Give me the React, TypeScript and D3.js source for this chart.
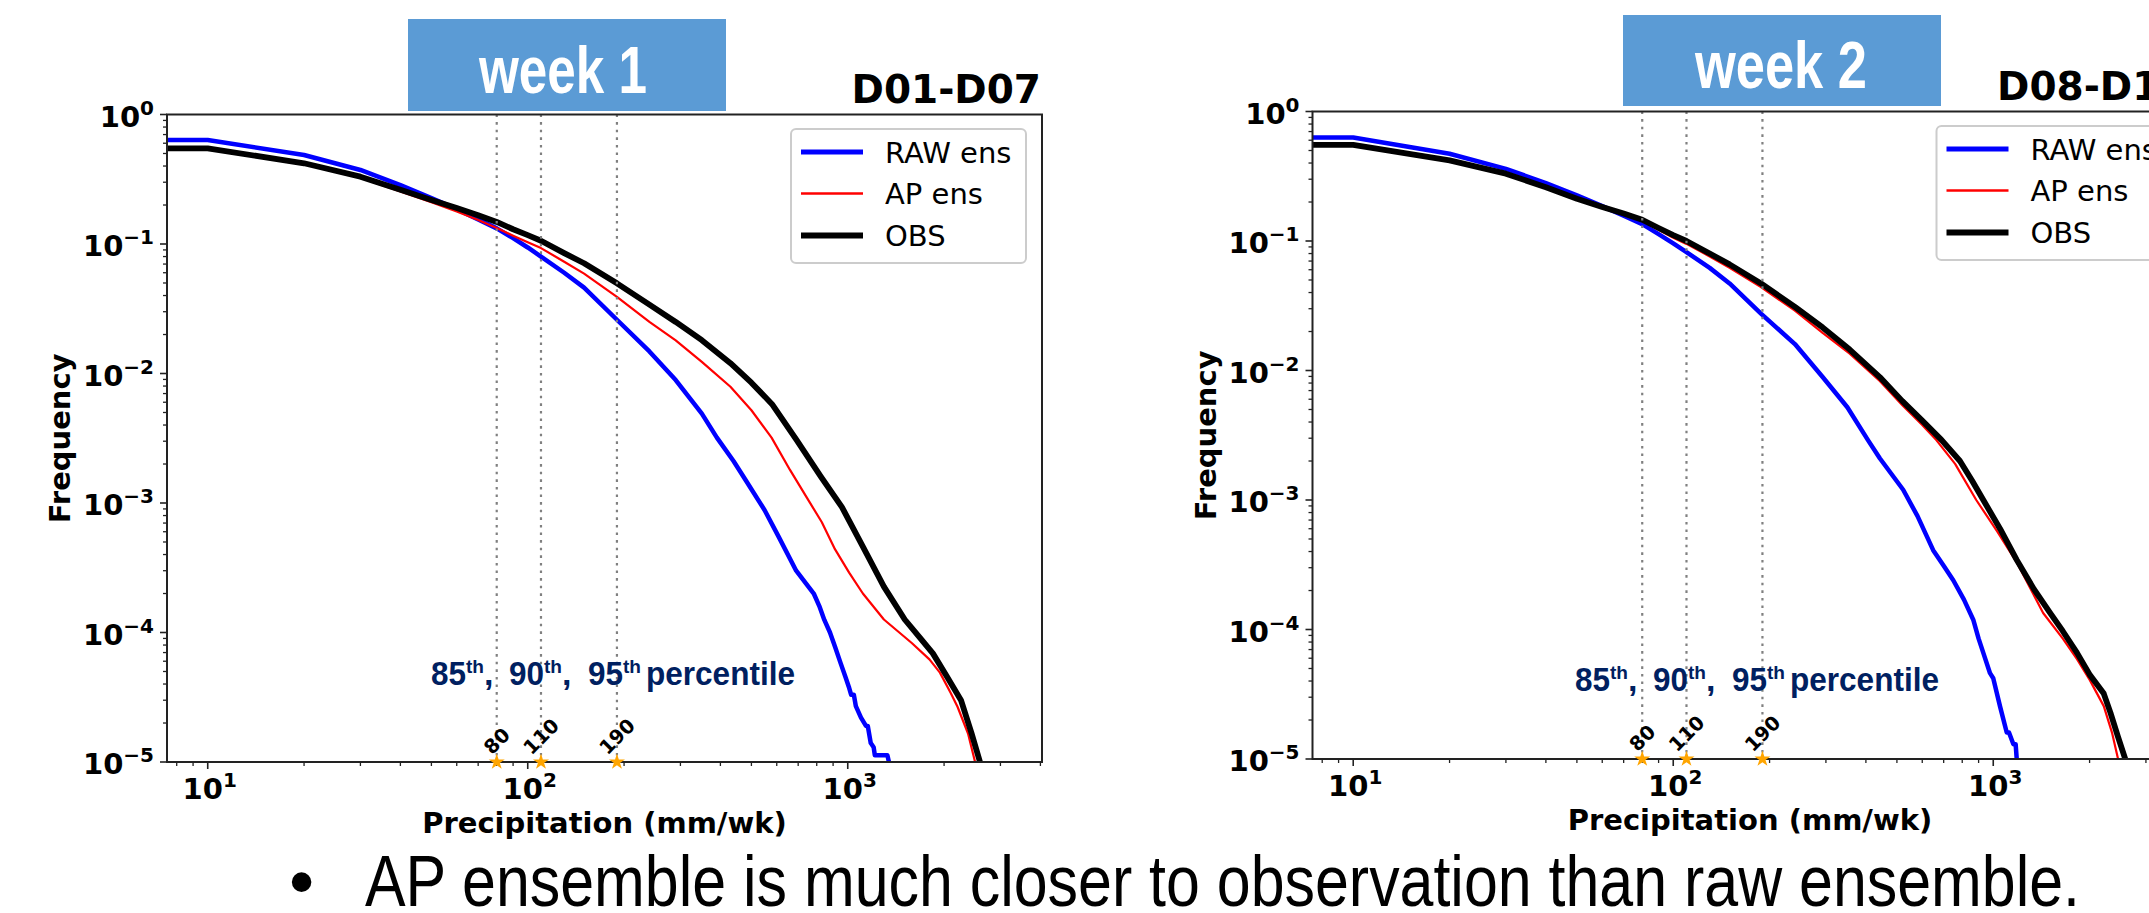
import React from 'react';
import * as d3 from 'd3';

type Pt = [number, number];

// ---------- data ----------
const xTicks = [10, 100, 1000];
const xTickExp = ['1', '2', '3'];
const yTicks = [1, 1e-1, 1e-2, 1e-3, 1e-4, 1e-5];
const yTickExp = ['0', '\u22121', '\u22122', '\u22123', '\u22124', '\u22125'];
const xDomain = [7.46, 4046];
const yDomain = [1e-5, 1];
const percentiles = [80, 110, 190];
const percentileLabels = ['80', '110', '190'];
const percentileNames = ['85', '90', '95'];
const seriesNames = ['RAW ens', 'AP ens', 'OBS'];
const seriesColors = ['#0000ff', '#ff0000', '#000000'];
const panelTitles = ['D01-D07', 'D08-D14'];
const weekLabels = ['week 1', 'week 2'];
const bottomNote = 'AP ensemble is much closer to observation than raw ensemble.';

const week1Raw: Pt[] = [
  [5, 0.635], [10, 0.635], [20, 0.487], [30, 0.373], [40, 0.285], [50, 0.226], [60, 0.186],
  [70, 0.155], [80, 0.132], [90, 0.111], [100, 0.094], [110, 0.08], [130, 0.06], [150, 0.046],
  [190, 0.026], [240, 0.0148], [290, 0.0089], [350, 0.0049], [390, 0.0032], [440, 0.0021],
  [480, 0.0015], [550, 0.00088], [608, 0.00055], [690, 0.0003], [740, 0.00024], [783, 0.0002],
  [815, 0.00016], [845, 0.000125], [880, 0.0001], [912, 0.000078], [950, 0.000058],
  [985, 0.000045], [1008, 0.000038], [1025, 0.000033], [1045, 0.000033], [1060, 0.000027],
  [1100, 0.000022], [1140, 0.000019], [1155, 0.000019], [1180, 0.000014], [1205, 0.000013],
  [1215, 0.0000113], [1330, 0.0000113], [1345, 0.00001],
];
const week1Ap: Pt[] = [
  [5, 0.548], [10, 0.548], [20, 0.417], [30, 0.325], [40, 0.255], [50, 0.21], [60, 0.178],
  [70, 0.153], [80, 0.133], [90, 0.116], [100, 0.103], [110, 0.093], [130, 0.073], [150, 0.059],
  [190, 0.039], [240, 0.025], [290, 0.018], [350, 0.0123], [430, 0.0079], [500, 0.0052],
  [578, 0.0032], [660, 0.0018], [745, 0.0011], [830, 0.00071], [912, 0.00044], [1010, 0.00029],
  [1115, 0.0002], [1297, 0.000126], [1585, 0.000083], [1800, 0.000062], [1941, 0.000049],
  [2100, 0.000034], [2203, 0.0000267], [2376, 0.0000166], [2500, 0.00001],
];
const week1Obs: Pt[] = [
  [5, 0.548], [10, 0.548], [20, 0.42], [30, 0.331], [40, 0.262], [50, 0.219], [60, 0.19],
  [70, 0.167], [80, 0.148], [90, 0.13], [100, 0.117], [110, 0.106], [130, 0.085], [150, 0.071],
  [190, 0.0497], [240, 0.034], [290, 0.025], [350, 0.0181], [430, 0.012], [500, 0.0085],
  [580, 0.0058], [690, 0.0031], [824, 0.0016], [959, 0.00093], [1115, 0.00046], [1297, 0.000226],
  [1507, 0.000126], [1700, 0.000088], [1845, 0.000069], [2050, 0.000045], [2259, 0.00003],
  [2438, 0.0000166], [2590, 0.00001],
];

const week2Raw: Pt[] = [
  [5, 0.63], [10, 0.63], [20, 0.472], [30, 0.361], [40, 0.28], [50, 0.225], [60, 0.186],
  [70, 0.157], [80, 0.135], [90, 0.113], [100, 0.096], [110, 0.082], [130, 0.062], [150, 0.047],
  [188, 0.0275], [240, 0.016], [293, 0.0089], [350, 0.0052], [406, 0.0029], [442, 0.0021],
  [523, 0.0012], [580, 0.00075], [649, 0.00041], [700, 0.00031], [750, 0.00024], [810, 0.00017],
  [866, 0.000119], [900, 0.000085], [931, 0.000066], [977, 0.000046], [1000, 0.000042],
  [1050, 0.0000255], [1102, 0.000016], [1120, 0.000016], [1156, 0.000013], [1175, 0.000013],
  [1184, 0.00001],
];
const week2Ap: Pt[] = [
  [5, 0.553], [10, 0.553], [20, 0.416], [30, 0.327], [40, 0.257], [50, 0.209], [60, 0.18],
  [70, 0.16], [80, 0.143], [90, 0.122], [100, 0.106], [110, 0.095], [130, 0.076], [150, 0.062],
  [188, 0.044], [240, 0.029], [293, 0.0195], [356, 0.0135], [442, 0.0083], [520, 0.0054],
  [600, 0.0038], [664, 0.0029], [760, 0.0019], [885, 0.001], [1030, 0.00057], [1184, 0.00033],
  [1432, 0.000134], [1650, 0.000085], [1827, 0.000059], [2000, 0.000041], [2215, 0.0000256],
  [2350, 0.000016], [2455, 0.00001],
];
const week2Obs: Pt[] = [
  [5, 0.553], [10, 0.553], [20, 0.419], [30, 0.331], [40, 0.26], [50, 0.212], [60, 0.183],
  [70, 0.163], [80, 0.146], [90, 0.126], [100, 0.111], [110, 0.1], [130, 0.08], [150, 0.066],
  [188, 0.047], [240, 0.031], [293, 0.0215], [356, 0.0145], [442, 0.0089], [520, 0.0058],
  [600, 0.0041], [690, 0.0029], [787, 0.002], [860, 0.0014], [931, 0.001], [1050, 0.0006],
  [1184, 0.000345], [1340, 0.000205], [1507, 0.000134], [1650, 0.000097], [1827, 0.000066],
  [2000, 0.000045], [2215, 0.000032], [2325, 0.0000227], [2450, 0.000015], [2585, 0.00001],
];

// ---------- layout ----------
const W = 2149;
const H = 913;
const PW = 875;
const PH = 647.5;
const MPL = 'DejaVu Sans';
const PPT = 'Liberation Sans';

function minorTicks(lo: number, hi: number, majors: number[]) {
  const out: number[] = [];
  for (let e = Math.floor(Math.log10(lo)); e <= Math.ceil(Math.log10(hi)); e++) {
    for (let m = 1; m <= 9; m++) {
      const v = m * Math.pow(10, e);
      if (v >= lo * 0.999 && v <= hi * 1.001 && !majors.some((t) => Math.abs(t - v) / v < 1e-6)) out.push(v);
    }
  }
  return out;
}

interface PanelProps {
  idx: number;
  left: number;
  top: number;
  raw: Pt[];
  ap: Pt[];
  obs: Pt[];
  pctX: number;
  pctY: number;
  boxX: number;
  boxY: number;
  boxH: number;
  weekX: number;
  weekY: number;
  weekLen: number;
  weekSize: number;
}

function PercentileNote({ x0, y0 }: { x0: number; y0: number }) {
  const numX = [0, 78, 157];
  const fill = '#002060';
  return (
    <g fontFamily={PPT} fontWeight="bold" fill={fill}>
      {percentileNames.map((n, i) => (
        <g key={i}>
          <text x={x0 + numX[i] - 1} y={y0} fontSize={34} textLength={35} lengthAdjust="spacingAndGlyphs">{n}</text>
          <text x={x0 + numX[i] + 34} y={y0 - 12} fontSize={18} textLength={18} lengthAdjust="spacingAndGlyphs">th</text>
          {i < 2 && <text x={x0 + numX[i] + 52} y={y0} fontSize={34}>,</text>}
        </g>
      ))}
      <text x={x0 + 214} y={y0} fontSize={34} textLength={149} lengthAdjust="spacingAndGlyphs">percentile</text>
    </g>
  );
}

function Panel(p: PanelProps) {
  const right = p.left + PW;
  const bottom = p.top + PH;
  const x = d3.scaleLog().domain(xDomain).range([p.left, right]);
  const y = d3.scaleLog().domain(yDomain).range([bottom, p.top]);
  const line = d3.line<Pt>().x((d) => x(d[0])).y((d) => y(d[1]));
  const clipId = `clip${p.idx}`;
  const series = [p.raw, p.ap, p.obs];
  const widths = [4.5, 2.2, 5.8];
  const xMinor = minorTicks(xDomain[0], xDomain[1], xTicks);
  const yMinor = minorTicks(yDomain[0], yDomain[1], yTicks);
  const star = d3.symbol(d3.symbolStar, 80)() as string;
  const legX = p.left + 624;
  const legY = p.top + 14.5;
  const rowOff = [23, 64.5, 106.5];
  const lblFs = 19.5;

  return (
    <g>
      <defs>
        <clipPath id={clipId}>
          <rect x={p.left} y={p.top} width={PW} height={PH} />
        </clipPath>
      </defs>
      <g clipPath={`url(#${clipId})`}>
        {series.map((s, i) => (
          <path key={i} d={line(s) as string} fill="none" stroke={seriesColors[i]}
            strokeWidth={widths[i]} strokeLinejoin="round" strokeLinecap="butt" />
        ))}
      </g>
      {percentiles.map((v, i) => (
        <line key={i} x1={x(v)} x2={x(v)} y1={p.top} y2={bottom} stroke="#808080"
          strokeWidth={2.2} strokeDasharray="2.6 5" />
      ))}
      <rect x={p.left} y={p.top} width={PW} height={PH} fill="none" stroke="#222" strokeWidth={2} />
      {yTicks.map((t, i) => (
        <g key={`yt${i}`}>
          <line x1={p.left - 7} x2={p.left} y1={y(t)} y2={y(t)} stroke="#222" strokeWidth={1.6} />
          <text x={p.left - 13} y={y(t) + 12} textAnchor="end" fontFamily={MPL} fontWeight="bold" fontSize={29} fill="#000">
            <tspan>10</tspan>
            <tspan dy={-12} fontSize={20}>{yTickExp[i]}</tspan>
          </text>
        </g>
      ))}
      {yMinor.map((t, i) => (
        <line key={`ym${i}`} x1={p.left - 4} x2={p.left} y1={y(t)} y2={y(t)} stroke="#222" strokeWidth={1.3} />
      ))}
      {xTicks.map((t, i) => (
        <g key={`xt${i}`}>
          <line x1={x(t)} x2={x(t)} y1={bottom} y2={bottom + 7} stroke="#222" strokeWidth={1.6} />
          <text x={x(t) + 2} y={bottom + 37} textAnchor="middle" fontFamily={MPL} fontWeight="bold" fontSize={29} fill="#000">
            <tspan>10</tspan>
            <tspan dy={-12} fontSize={20}>{xTickExp[i]}</tspan>
          </text>
        </g>
      ))}
      {xMinor.map((t, i) => (
        <line key={`xm${i}`} x1={x(t)} x2={x(t)} y1={bottom} y2={bottom + 4} stroke="#222" strokeWidth={1.3} />
      ))}
      <text x={(p.left + right) / 2} y={bottom + 71} textAnchor="middle" fontFamily={MPL} fontWeight="bold" fontSize={29}>
        Precipitation (mm/wk)
      </text>
      <text transform={`translate(${p.left - 97},${(p.top + bottom) / 2}) rotate(-90)`} textAnchor="middle"
        fontFamily={MPL} fontWeight="bold" fontSize={29}>
        Frequency
      </text>
      <text x={right - 1} y={p.top - 12} textAnchor="end" fontFamily={MPL} fontWeight="bold" fontSize={39}>
        {panelTitles[p.idx]}
      </text>
      <rect x={legX} y={legY} width={235} height={134} rx={5} fill="#fff" fillOpacity={0.85} stroke="#cccccc" strokeWidth={2} />
      {seriesNames.map((n, i) => (
        <g key={`lg${i}`}>
          <line x1={legX + 10} x2={legX + 72} y1={legY + rowOff[i]} y2={legY + rowOff[i]}
            stroke={seriesColors[i]} strokeWidth={widths[i] + 0.4} />
          <text x={legX + 94} y={legY + rowOff[i] + 10.5} fontFamily={MPL} fontSize={29} fill="#000">{n}</text>
        </g>
      ))}
      {percentiles.map((v, i) => {
        const L = percentileLabels[i].length * 0.66 * lblFs;
        const h = (L + 0.73 * lblFs) * 0.707;
        const cy = bottom - 7 - h / 2;
        return (
          <g key={`st${i}`}>
            <path d={star} transform={`translate(${x(v)},${bottom})`} fill="#FFA500" />
            <text transform={`translate(${x(v)},${cy}) rotate(-45)`} textAnchor="middle" dy="0.36em"
              fontFamily={MPL} fontWeight="bold" fontSize={lblFs} fill="#000">
              {percentileLabels[i]}
            </text>
          </g>
        );
      })}
      <PercentileNote x0={p.pctX} y0={p.pctY} />
      <rect x={p.boxX} y={p.boxY} width={318} height={p.boxH} fill="#5B9BD5" />
      <text x={p.weekX} y={p.weekY} fontFamily={PPT} fontWeight="bold" fontSize={p.weekSize} fill="#fff"
        textLength={p.weekLen} lengthAdjust="spacingAndGlyphs">
        {weekLabels[p.idx]}
      </text>
    </g>
  );
}

export default function App() {
  return (
    <svg width={W} height={H} viewBox={`0 0 ${W} ${H}`}
      style={{ position: 'absolute', left: 0, top: 0, display: 'block', background: '#fff' }}>
      <rect x={0} y={0} width={W} height={H} fill="#fff" />
      <Panel idx={0} left={167} top={114.5} raw={week1Raw} ap={week1Ap} obs={week1Obs}
        pctX={432} pctY={685} boxX={408} boxY={19} boxH={92}
        weekX={479} weekY={93} weekLen={168} weekSize={67} />
      <Panel idx={1} left={1312.5} top={111.5} raw={week2Raw} ap={week2Ap} obs={week2Obs}
        pctX={1576} pctY={691} boxX={1623} boxY={15} boxH={91}
        weekX={1695} weekY={88} weekLen={172} weekSize={66} />
      <text x={289} y={906} fontFamily={PPT} fontSize={72} fill="#000">{'\u2022'}</text>
      <text x={365} y={906} fontFamily={PPT} fontSize={72} fill="#000"
        textLength={1715} lengthAdjust="spacingAndGlyphs">
        {bottomNote}
      </text>
    </svg>
  );
}
